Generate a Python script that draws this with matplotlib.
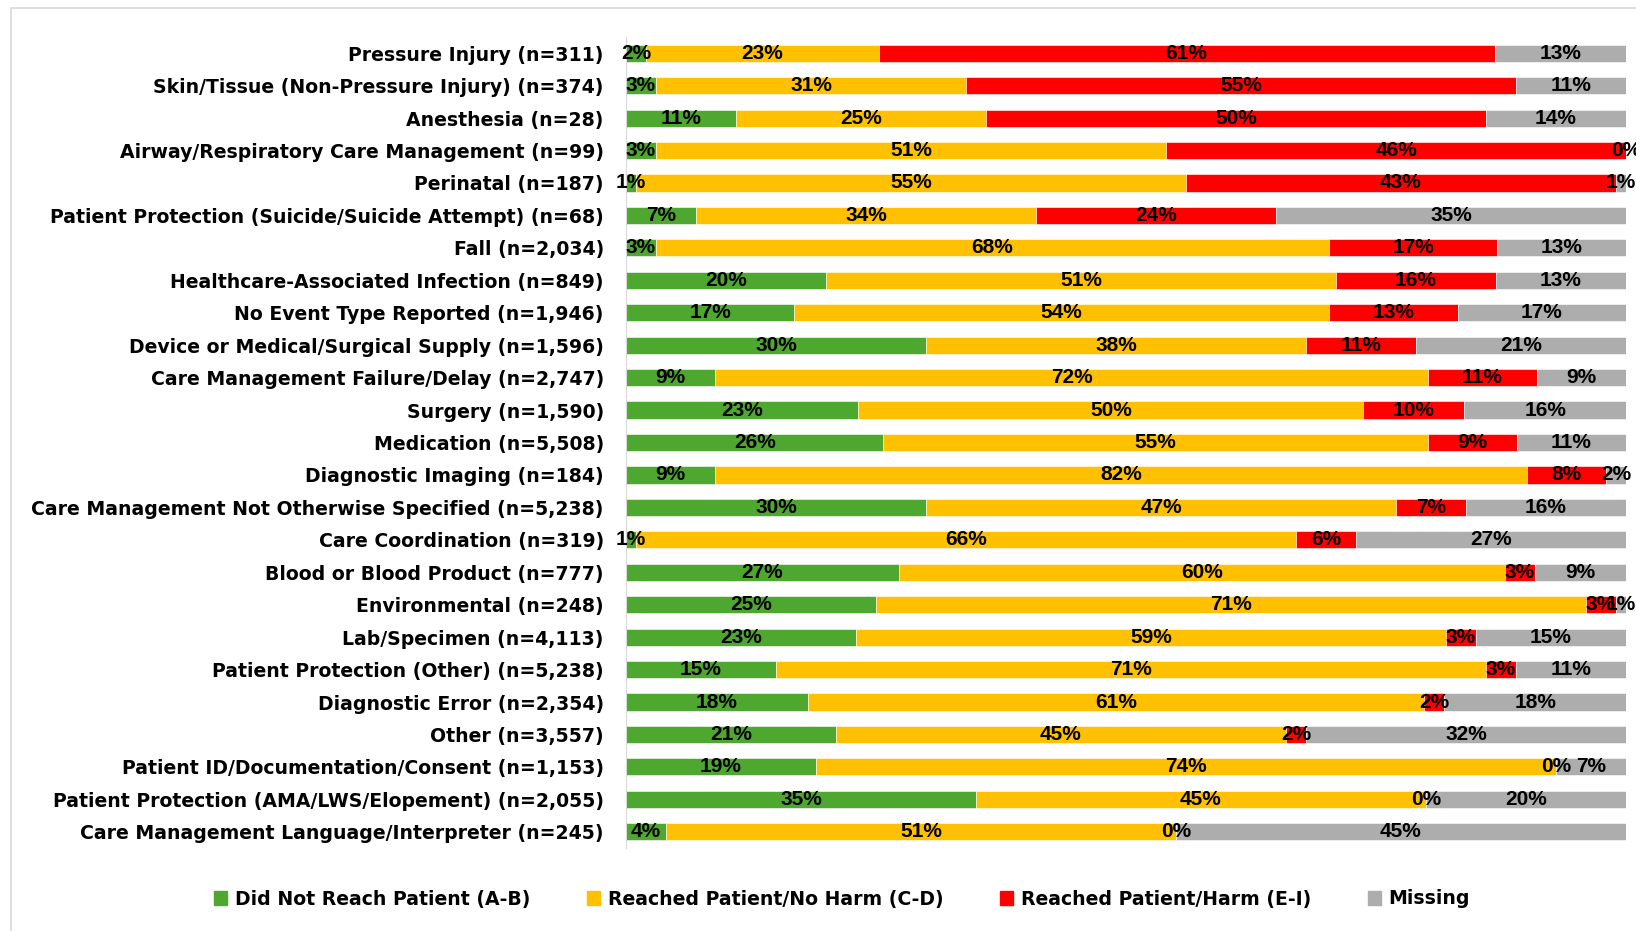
import numpy as np
import matplotlib
matplotlib.use("Agg")
import matplotlib.pyplot as plt
from matplotlib.patches import Patch, Rectangle

## --Data (percent of events, by harm level)
categories = [
    "Pressure Injury (n=311)",
    "Skin/Tissue (Non-Pressure Injury) (n=374)",
    "Anesthesia (n=28)",
    "Airway/Respiratory Care Management (n=99)",
    "Perinatal (n=187)",
    "Patient Protection (Suicide/Suicide Attempt) (n=68)",
    "Fall (n=2,034)",
    "Healthcare-Associated Infection (n=849)",
    "No Event Type Reported (n=1,946)",
    "Device or Medical/Surgical Supply (n=1,596)",
    "Care Management Failure/Delay (n=2,747)",
    "Surgery (n=1,590)",
    "Medication (n=5,508)",
    "Diagnostic Imaging (n=184)",
    "Care Management Not Otherwise Specified (n=5,238)",
    "Care Coordination (n=319)",
    "Blood or Blood Product (n=777)",
    "Environmental (n=248)",
    "Lab/Specimen (n=4,113)",
    "Patient Protection (Other) (n=5,238)",
    "Diagnostic Error (n=2,354)",
    "Other (n=3,557)",
    "Patient ID/Documentation/Consent (n=1,153)",
    "Patient Protection (AMA/LWS/Elopement) (n=2,055)",
    "Care Management Language/Interpreter (n=245)",
]
did_not_reach = [2, 3, 11, 3, 1, 7, 3, 20, 17, 30, 9, 23, 26, 9, 30, 1, 27, 25, 23, 15, 18, 21, 19, 35, 4]
no_harm       = [23, 31, 25, 51, 55, 34, 68, 51, 54, 38, 72, 50, 55, 82, 47, 66, 60, 71, 59, 71, 61, 45, 74, 45, 51]
harm          = [61, 55, 50, 46, 43, 24, 17, 16, 13, 11, 11, 10, 9, 8, 7, 6, 3, 3, 3, 3, 2, 2, 0, 0, 0]
missing       = [13, 11, 14, 0, 1, 35, 13, 13, 17, 21, 9, 16, 11, 2, 16, 27, 9, 1, 15, 11, 18, 32, 7, 20, 45]

series = [did_not_reach, no_harm, harm, missing]
names = ["Did Not Reach Patient (A-B)", "Reached Patient/No Harm (C-D)",
         "Reached Patient/Harm (E-I)", "Missing"]
colors = ["#4EA72E", "#FFC000", "#FF0000", "#ADADAD"]

data = np.array(series, dtype=float)
shares = data / data.sum(axis=0)  # 100% stacked, like Excel

## --Draw
fig = plt.figure(figsize=(16.36, 9.31), dpi=100)
ax = fig.add_axes([626/1636, 1-848/931, 1000/1636, (848-37)/931])

y = np.arange(len(categories))
left = np.zeros(len(categories))
lab_font = dict(family="Liberation Sans", fontweight="bold", fontsize=15)
for vals, sh, col in zip(data, shares, colors):
    ax.barh(y, sh, left=left, height=0.53, color=col, edgecolor="white", linewidth=0.4)
    for yi, (l, w, v) in enumerate(zip(left, sh, vals)):
        ax.text(l + w/2, yi, f"{int(v)}%", ha="center", va="center", color="black",
                clip_on=False, **lab_font)
    left += sh

cat_font = dict(family="DejaVu Sans", weight="bold", size=13.6)
ax.set_xlim(0, 1)
ax.set_ylim(len(categories) - 0.5, -0.5)
ax.set_yticks(y)
ax.set_yticklabels(categories, **cat_font)
ax.tick_params(axis="y", length=0, pad=16)
ax.set_xticks([])
for s in ["top", "right", "bottom"]:
    ax.spines[s].set_visible(False)
ax.spines["left"].set_color("#D9D9D9")

handles = [Patch(facecolor=c, edgecolor=c) for c in colors]
fig.legend(handles, names, loc="center", bbox_to_anchor=(842/1636, 1-899/931), ncol=4,
           frameon=False, handlelength=0.7, handleheight=0.7, handletextpad=0.4,
           columnspacing=3.0, prop=cat_font)

# chart area border
fig.patches.append(Rectangle((11/1636, -0.05), 1.1, 1-8/931+0.05, transform=fig.transFigure,
                             fill=False, edgecolor="#D9D9D9", linewidth=1.2))

plt.savefig("out.png", dpi=100)
